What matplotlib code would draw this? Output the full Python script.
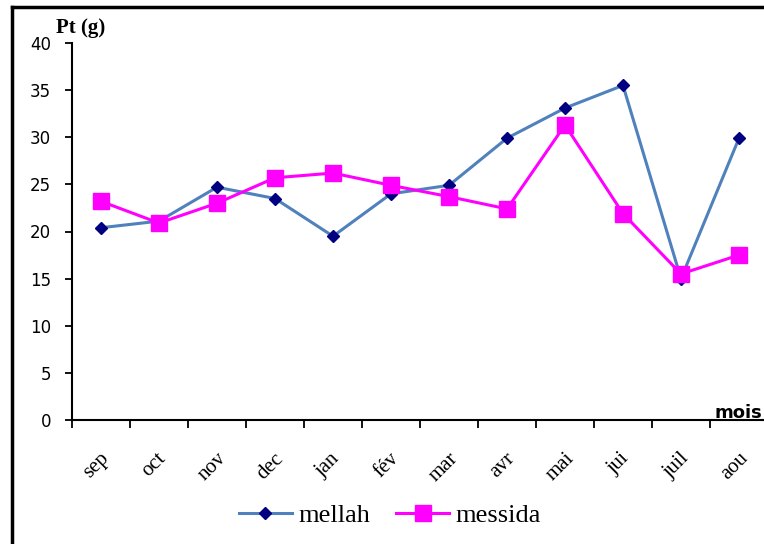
import matplotlib
matplotlib.use("Agg")
import matplotlib.pyplot as plt
from matplotlib.lines import Line2D

months = ["sep", "oct", "nov", "dec", "jan", "fév", "mar", "avr", "mai", "jui", "juil", "aou"]
mellah = [20.4, 21.1, 24.7, 23.5, 19.5, 24.0, 24.9, 29.9, 33.1, 35.5, 15.0, 29.9]
messida = [23.2, 20.9, 23.0, 25.7, 26.2, 24.9, 23.7, 22.4, 31.3, 21.9, 15.5, 17.5]
y_ticks = [0, 5, 10, 15, 20, 25, 30, 35, 40]

W, H = 764, 544
fig = plt.figure(figsize=(W / 100, H / 100), dpi=100)
ax = fig.add_axes([72 / W, 1 - 420 / H, 696 / W, 377 / H])

x = [i + 0.5 for i in range(len(months))]
ax.plot(x, mellah, color="#4f81bd", lw=2.2, marker="D", ms=6,
        mfc="#000080", mec="#000080", label="mellah", clip_on=False, zorder=3)
ax.plot(x, messida, color="#ff00ff", lw=2.2, marker="s", ms=11,
        mfc="#ff00ff", mec="#ff00ff", label="messida", clip_on=False, zorder=4)

ax.set_xlim(0, len(months))
ax.set_ylim(0, 40)
ax.set_yticks(y_ticks)
ax.set_yticklabels([str(v) for v in y_ticks], fontsize=12, family="DejaVu Sans")
ax.set_xticks(range(len(months) + 1))
ax.set_xticklabels([])
ax.set_xticks([v - 0.08 for v in x], minor=True)
ax.set_xticklabels(months, minor=True, rotation=45, ha="center", va="top",
                   fontsize=15, family="Liberation Serif")
ax.tick_params(axis="x", which="minor", length=0, pad=21)
ax.tick_params(axis="x", which="major", length=6, width=1.3, direction="out")
ax.tick_params(axis="y", length=5, width=1.3, direction="out", pad=10)

for s in ("top", "right"):
    ax.spines[s].set_visible(False)
for s in ("left", "bottom"):
    ax.spines[s].set_linewidth(1.5)

fig.text(81 / W, 1 - 28 / H, "Pt (g)", ha="center", va="center",
         fontsize=15, fontweight="bold", family="Liberation Serif")
fig.text(762 / W, 1 - 413 / H, "mois", ha="right", va="center",
         fontsize=13, fontweight="bold", family="DejaVu Sans")

handles = [
    Line2D([], [], color="#4f81bd", lw=2.2, marker="D", ms=6, mfc="#000080", mec="#000080"),
    Line2D([], [], color="#ff00ff", lw=2.2, marker="s", ms=11, mfc="#ff00ff", mec="#ff00ff"),
]
fig.legend(handles, ["mellah", "messida"], loc="center", bbox_to_anchor=(390 / W, 1 - 515 / H),
           ncol=2, frameon=False, prop={"family": "Liberation Serif", "size": 19},
           handlelength=2.0, columnspacing=1.0, handletextpad=0.25)

# outer frame: top and left edges only
fig.add_artist(Line2D([11.5 / W, 1.0], [1 - 7 / H, 1 - 7 / H], transform=fig.transFigure,
                      color="black", lw=2.5))
fig.add_artist(Line2D([11.5 / W, 11.5 / W], [0, 1 - 7 / H], transform=fig.transFigure,
                      color="black", lw=2.5))

fig.savefig("out.png", dpi=100)
